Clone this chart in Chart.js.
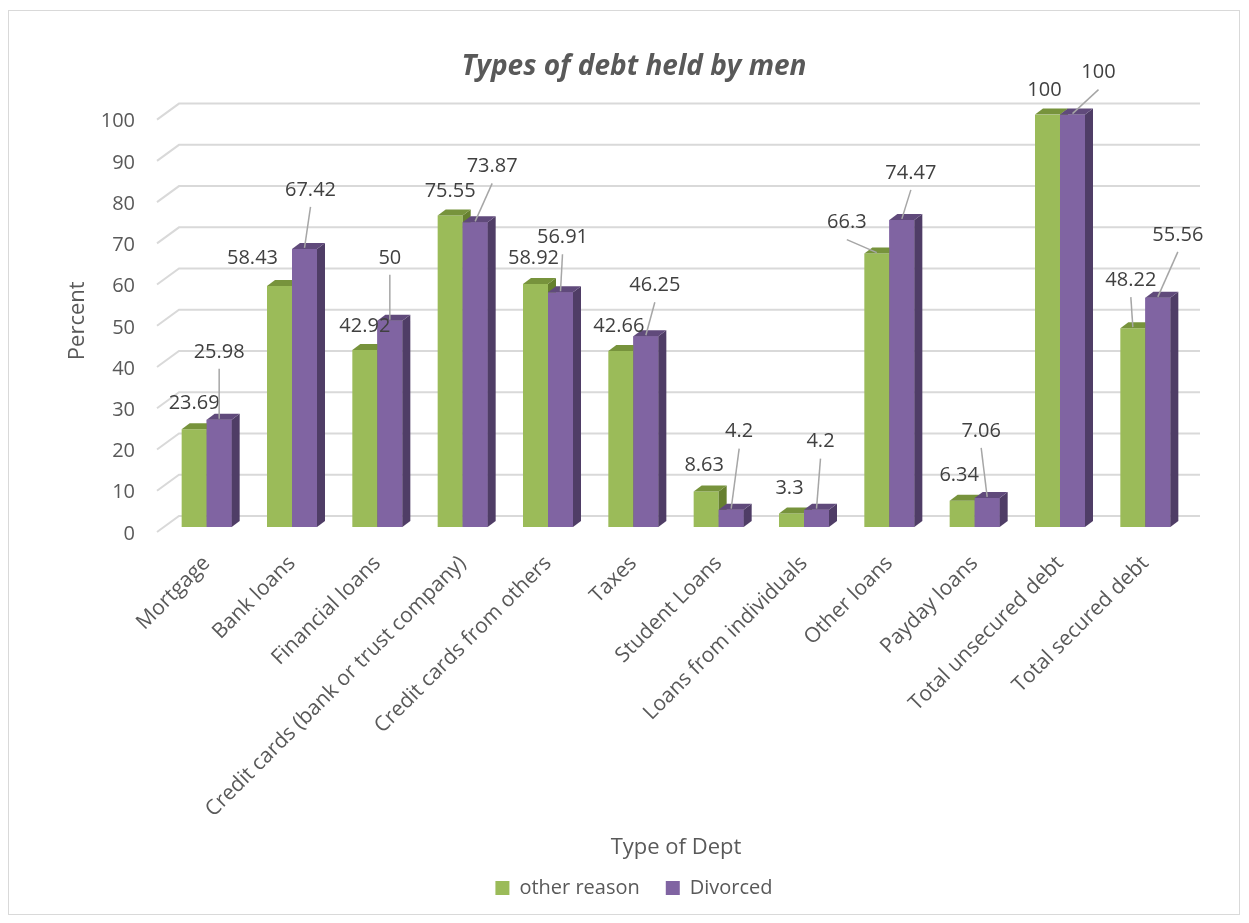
<!DOCTYPE html>
<html>
<head>
<meta charset="utf-8">
<script src="https://cdn.jsdelivr.net/npm/chart.js@4.4.0/dist/chart.umd.min.js"></script>
<style>
  body { margin: 0; background: #fff; }
  #wrap { position: relative; width: 1249px; height: 923px; }
</style>
</head>
<body>
<div id="wrap"><canvas id="debtChart"></canvas></div>
<script>
const categories = ["Mortgage", "Bank loans", "Financial loans", "Credit cards (bank or trust company)",
  "Credit cards from others", "Taxes", "Student Loans", "Loans from individuals", "Other loans",
  "Payday loans", "Total unsecured debt", "Total secured debt"];
const otherReason = [23.69, 58.43, 42.92, 75.55, 58.92, 42.66, 8.63, 3.3, 66.3, 6.34, 100, 48.22];
const divorced = [25.98, 67.42, 50, 73.87, 56.91, 46.25, 4.2, 4.2, 74.47, 7.06, 100, 55.56];
const yTicks = [0, 10, 20, 30, 40, 50, 60, 70, 80, 90, 100];

// where each value label sits, relative to the top of its bar (px)
const otherLabelShift = [[0,-26],[-27,-28],[0,-24],[0,-24],[-2,-26],[-2,-25],[-2,-26],[-2,-25],[-30,-31],[-3,-26],[-3,-24],[-2,-48]];
const divorcedLabelShift = [[0,-68],[6,-59],[0,-63],[17,-56],[2,-55],[9,-51],[8,-78],[4,-68],[9,-47],[-6,-67],[26,-42],[20,-63]];

Chart.defaults.font.family = "'Open Sans', sans-serif";
Chart.defaults.color = "#595959";

const depthX = 8, depthY = 6;
const faceColors = [
  { top: "#77933c", side: "#66802f" },
  { top: "#604a7b", side: "#4f3d66" }
];

// light frame + white background
const frame = {
  id: "frame",
  beforeDraw(chart) {
    const ctx = chart.ctx;
    ctx.save();
    ctx.fillStyle = "#fff";
    ctx.fillRect(0, 0, chart.width, chart.height);
    ctx.strokeStyle = "#d9d9d9";
    ctx.lineWidth = 1;
    ctx.strokeRect(8.5, 10.5, 1231, 904);
    ctx.restore();
  }
};

// back wall gridlines, drawn with a bit of perspective
const backWall = {
  id: "backWall",
  beforeDatasetsDraw(chart) {
    const { ctx, chartArea, scales: { y } } = chart;
    ctx.save();
    ctx.strokeStyle = "#d9d9d9";
    ctx.lineWidth = 2;
    y.ticks.forEach(t => {
      const yf = y.getPixelForValue(t.value) + 5;
      ctx.beginPath();
      ctx.moveTo(chartArea.left - 7, yf);
      ctx.lineTo(chartArea.left + 15, yf - 16);
      ctx.lineTo(chartArea.right + 12, yf - 16);
      ctx.stroke();
    });
    ctx.restore();
  }
};

function drawFaces(ctx, bar, c) {
  const { x, y, base, width } = bar.getProps(["x", "y", "base", "width"], true);
  const l = x - width / 2, r = x + width / 2;
  ctx.fillStyle = c.side;
  ctx.beginPath();
  ctx.moveTo(r, y);
  ctx.lineTo(r + depthX, y - depthY);
  ctx.lineTo(r + depthX, base - depthY);
  ctx.lineTo(r, base);
  ctx.closePath();
  ctx.fill();
  ctx.fillStyle = c.top;
  ctx.beginPath();
  ctx.moveTo(l, y);
  ctx.lineTo(l + depthX, y - depthY);
  ctx.lineTo(r + depthX, y - depthY);
  ctx.lineTo(r, y);
  ctx.closePath();
  ctx.fill();
}

// top and side faces so the columns look like the excel 3d ones.
// green faces first, then the purple column is painted again on top of them
const bars3d = {
  id: "bars3d",
  afterDatasetsDraw(chart) {
    const ctx = chart.ctx;
    const green = chart.getDatasetMeta(0).data;
    const purple = chart.getDatasetMeta(1).data;
    ctx.save();
    green.forEach((bar, i) => {
      drawFaces(ctx, bar, faceColors[0]);
      purple[i].draw(ctx, chart.chartArea);
      drawFaces(ctx, purple[i], faceColors[1]);
    });
    ctx.restore();
  }
};

const valueLabels = {
  id: "valueLabels",
  afterDatasetsDraw(chart) {
    const ctx = chart.ctx;
    const shifts = [otherLabelShift, divorcedLabelShift];
    ctx.save();
    ctx.font = "20px 'Open Sans'";
    ctx.textAlign = "center";
    ctx.textBaseline = "middle";
    chart.data.datasets.forEach((ds, di) => {
      chart.getDatasetMeta(di).data.forEach((bar, i) => {
        const { x, y } = bar.getProps(["x", "y"], true);
        const [sx, sy] = shifts[di][i];
        const lx = x + sx, ly = y + sy;
        if (sy <= -30) {
          ctx.strokeStyle = "#a6a6a6";
          ctx.lineWidth = 1.5;
          ctx.beginPath();
          ctx.moveTo(lx, ly + 17);
          ctx.lineTo(x, y - 1);
          ctx.stroke();
        }
        ctx.fillStyle = "#404040";
        ctx.fillText(String(ds.data[i]), lx, ly);
      });
    });
    ctx.restore();
  }
};

const ctx = document.getElementById("debtChart").getContext("2d");
new Chart(ctx, {
  type: "bar",
  data: {
    labels: categories,
    datasets: [
      { label: "other reason", data: otherReason, backgroundColor: "#9bbb59", borderWidth: 0,
        barPercentage: 1, categoryPercentage: 0.586 },
      { label: "Divorced", data: divorced, backgroundColor: "#8064a2", borderWidth: 0,
        barPercentage: 1, categoryPercentage: 0.586 }
    ]
  },
  options: {
    responsive: true,
    maintainAspectRatio: false,
    animation: false,
    layout: { padding: { left: 58, right: 39, top: 10, bottom: 15 } },
    plugins: {
      title: {
        display: true,
        text: "Types of debt held by men",
        color: "#595959",
        font: { size: 28, weight: "bold", style: "italic" },
        padding: { top: 40, bottom: 31 }
      },
      legend: {
        position: "bottom",
        labels: { boxWidth: 14, boxHeight: 14, color: "#595959", font: { size: 20 }, padding: 26 }
      },
      tooltip: { enabled: false }
    },
    scales: {
      x: {
        grid: { display: false, drawTicks: false },
        border: { display: false },
        ticks: { color: "#595959", font: { size: 21 }, minRotation: 45, maxRotation: 45, autoSkip: false, padding: 24 },
        title: { display: true, text: "Type of Dept", color: "#595959", font: { size: 22 }, padding: { top: 0, bottom: -9 } },
        afterFit: s => { s.height = 325; s.paddingRight = 61; }
      },
      y: {
        min: 0,
        max: 100,
        grid: { display: false, drawTicks: false },
        border: { display: false },
        ticks: { color: "#595959", font: { size: 20 }, padding: 29, labelOffset: 7 },
        title: { display: true, text: "Percent", color: "#595959", font: { size: 22 }, padding: { top: 7, bottom: 0 } },
        afterBuildTicks: s => { s.ticks = yTicks.map(v => ({ value: v })); },
        afterFit: s => { s.width = 106; }
      }
    }
  },
  plugins: [frame, backWall, bars3d, valueLabels]
});
</script>
</body>
</html>
